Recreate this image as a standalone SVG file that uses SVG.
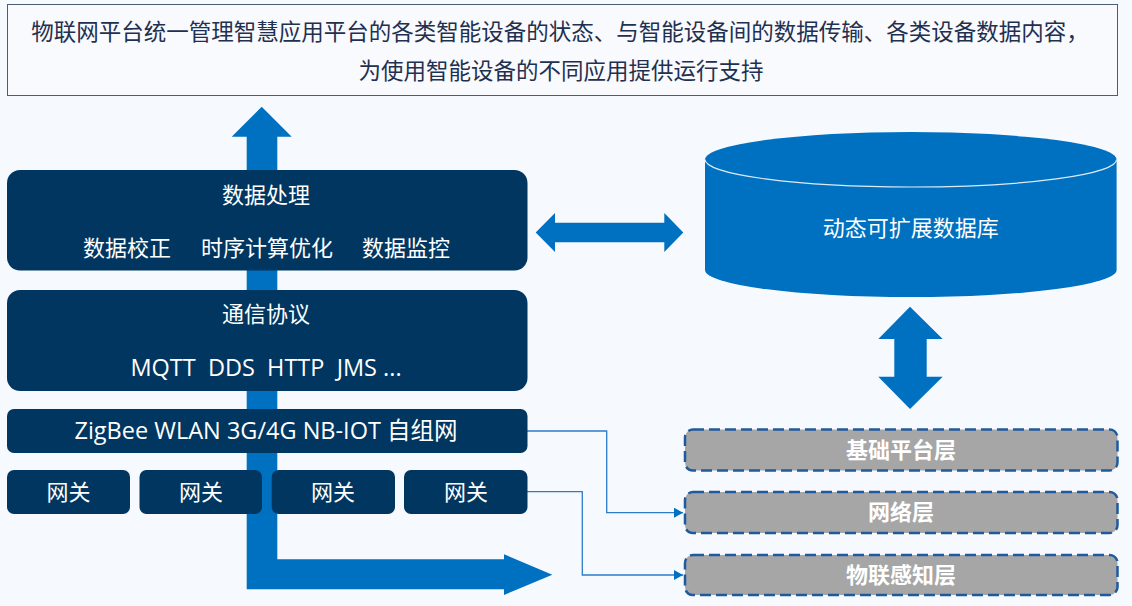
<svg xmlns="http://www.w3.org/2000/svg" width="1132" height="606" viewBox="0 0 1132 606">
<defs>
<style>
.t{font-family:"Open Sans","Noto Sans CJK SC","Microsoft YaHei",sans-serif;text-anchor:middle;dominant-baseline:central}
.w{fill:#ffffff;font-size:22px}
.lat{font-size:23.5px}
.dark{fill:#003660}
.blue{fill:#0070C0}
.layer{fill:#A6A6A6;stroke:#1F5A9E;stroke-width:2.5;stroke-dasharray:11 5}
.lt{fill:#ffffff;font-size:22px;font-weight:bold}
.conn{fill:none;stroke:#2B7CC9;stroke-width:1.3}
</style>
<marker id="ah" markerWidth="10" markerHeight="10" refX="9" refY="5" orient="auto" markerUnits="userSpaceOnUse">
<path d="M0,0 L9,5 L0,10 Z" fill="#0070C0"/>
</marker>
</defs>
<rect width="1132" height="606" fill="#F6F9FD"/>

<g id="summary">
<rect x="7.5" y="4.5" width="1110" height="91" fill="#F8FAFD" stroke="#4A5E78" stroke-width="1"/>
<text class="t" x="560" y="31" fill="#1F3050" font-size="22.5">物联网平台统一管理智慧应用平台的各类智能设备的状态、与智能设备间的数据传输、各类设备数据内容，</text>
<text class="t" x="561" y="70.5" fill="#1F3050" font-size="22.5">为使用智能设备的不同应用提供运行支持</text>
</g>

<g id="connectors">
<polygon class="blue" points="261.7,106.7 291.7,136.7 277.3,136.7 277.3,559.3 504,559.3 504,554.3 552.3,574.7 504,595 504,589.3 246.7,589.3 246.7,136.7 231.7,136.7"/>
<polygon class="blue" points="535.7,232.5 555,213 555,222.7 664.3,222.7 664.3,213 683.3,232.5 664.3,252 664.3,242.3 555,242.3 555,252"/>
<polygon class="blue" points="910,306.7 942.7,339 926.7,339 926.7,376.7 942.7,376.7 910,409 878.3,376.7 894.3,376.7 894.3,339 878.3,339"/>
<polyline class="conn" points="527,431 606.7,431 606.7,512.7 683,512.7" marker-end="url(#ah)"/>
<polyline class="conn" points="527,491.7 582.3,491.7 582.3,575 683,575" marker-end="url(#ah)"/>
</g>

<g id="data-processing">
<rect class="dark" x="7" y="170" width="520.5" height="100.5" rx="13"/>
<text class="t w" x="266" y="194">数据处理</text>
<text class="t w" x="127" y="247">数据校正</text>
<text class="t w" x="267" y="247">时序计算优化</text>
<text class="t w" x="406" y="247">数据监控</text>
</g>

<g id="protocol">
<rect class="dark" x="7" y="290" width="520.5" height="101" rx="13"/>
<text class="t w" x="266" y="313">通信协议</text>
<text class="t w lat" x="266" y="367" xml:space="preserve">MQTT  DDS  HTTP  JMS ...</text>
</g>

<g id="network">
<rect class="dark" x="7" y="409" width="520.5" height="44" rx="7"/>
<text class="t w lat" x="266" y="430">ZigBee WLAN 3G/4G NB-IOT 自组网</text>
</g>

<g id="gateway1"><rect class="dark" x="7" y="470" width="123" height="44" rx="7"/><text class="t w" x="68.5" y="491">网关</text></g>
<g id="gateway2"><rect class="dark" x="139.5" y="470" width="122.5" height="44" rx="7"/><text class="t w" x="201" y="491">网关</text></g>
<g id="gateway3"><rect class="dark" x="271.7" y="470" width="123.3" height="44" rx="7"/><text class="t w" x="333" y="491">网关</text></g>
<g id="gateway4"><rect class="dark" x="404" y="470" width="123.5" height="44" rx="7"/><text class="t w" x="466" y="491">网关</text></g>

<g id="database">
<path class="blue" d="M705,159.5 L705,270 A205.8,27 0 0 0 1116.6,270 L1116.6,159.5 A205.8,27.5 0 0 0 705,159.5 Z"/>
<path d="M705,159.5 A205.8,27.5 0 0 0 1116.6,159.5" fill="none" stroke="#DDEBF7" stroke-width="1.2"/>
<text class="t w" x="910.8" y="227">动态可扩展数据库</text>
</g>

<g id="layer-platform"><rect class="layer" x="685" y="429.5" width="432.5" height="41" rx="8"/><text class="t lt" x="901" y="448.5">基础平台层</text></g>
<g id="layer-network"><rect class="layer" x="685" y="492" width="432.5" height="41" rx="8"/><text class="t lt" x="901" y="511">网络层</text></g>
<g id="layer-sensing"><rect class="layer" x="685" y="555" width="432.5" height="40" rx="8"/><text class="t lt" x="901" y="573.5">物联感知层</text></g>
</svg>
